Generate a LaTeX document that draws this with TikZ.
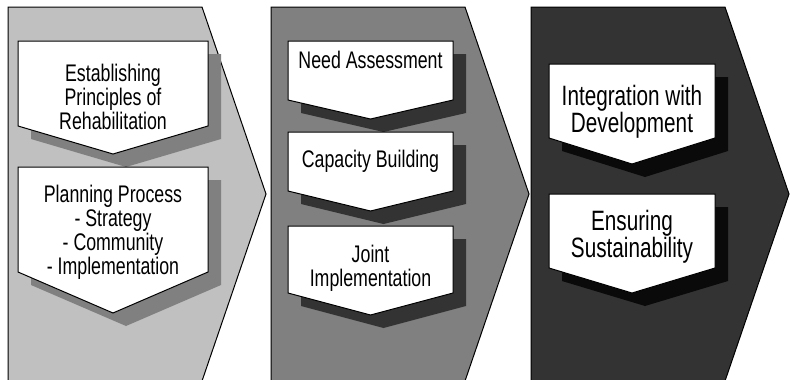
\documentclass[tikz,border=0pt]{standalone}
\usepackage{fontspec}
\setmainfont{Liberation Sans}[FakeStretch=0.74]
\definecolor{stageA}{HTML}{C0C0C0}
\definecolor{stageB}{HTML}{808080}
\definecolor{stageC}{HTML}{333333}
\definecolor{shadeC}{HTML}{0A0A0A}
\tikzset{
  stage/.style={draw=black, line width=1pt, line join=miter},
  card/.style={draw=black, fill=white, line width=1pt},
  cardshadow/.style={fill=#1},
  label/.style={anchor=north, inner sep=0pt, align=center, font=\fontsize{24}{24}\selectfont},
  biglabel/.style={anchor=north, inner sep=0pt, align=center, font=\fontsize{28}{25}\selectfont}
}
% downward pointing card with its drop shadow: left, right, top, side bottom, tip, shadow colour
\newcommand{\downcard}[6]{%
  \fill[cardshadow=#6] ({#1+13},{#3+13}) -- ({#2+13},{#3+13}) -- ({#2+13},{#4+13})
    -- ({(#1+#2)/2+13},{#5+13}) -- ({#1+13},{#4+13}) -- cycle;
  \draw[card] (#1,#3) -- (#2,#3) -- (#2,#4) -- ({(#1+#2)/2},#5) -- (#1,#4) -- cycle;
}
% chevron shaped stage panel: left edge, fill colour
\newcommand{\stagepanel}[2]{%
  \draw[stage, fill=#2] (#1,7) -- ({#1+194},7) -- ({#1+258},194) -- ({#1+194},381) -- (#1,381) -- cycle;
}
\begin{document}
\begin{tikzpicture}[x=1pt, y=-1pt]
  \useasboundingbox (0,0) rectangle (790,380);
  \fill[white] (0,0) rectangle (790,380);

  % stage 1
  \stagepanel{8}{stageA}
  \downcard{18}{208}{41}{126}{154}{stageB}
  \downcard{18}{208}{167}{272}{313}{stageB}
  \node[label] (principles) at (113,64) {Establishing\\Principles of\\Rehabilitation};
  \node[label] (planning) at (113,185) {Planning Process\\- Strategy\\- Community\\- Implementation};

  % stage 2
  \stagepanel{271}{stageB}
  \downcard{288}{453}{41}{100}{119}{stageC}
  \downcard{288}{453}{132}{191}{211}{stageC}
  \downcard{288}{453}{226}{293}{315}{stageC}
  \node[label] (need) at (370.5,51) {Need Assessment};
  \node[label] (capacity) at (370.5,150) {Capacity Building};
  \node[label] (joint) at (370.5,245) {Joint\\Implementation};

  % stage 3
  \stagepanel{531}{stageC}
  \downcard{549}{715}{64}{138}{164}{shadeC}
  \downcard{549}{715}{194}{268}{293}{shadeC}
  \node[biglabel] (integration) at (632,85) {Integration with\\Development};
  \node[biglabel] (sustain) at (632,210) {Ensuring\\Sustainability};
\end{tikzpicture}
\end{document}
